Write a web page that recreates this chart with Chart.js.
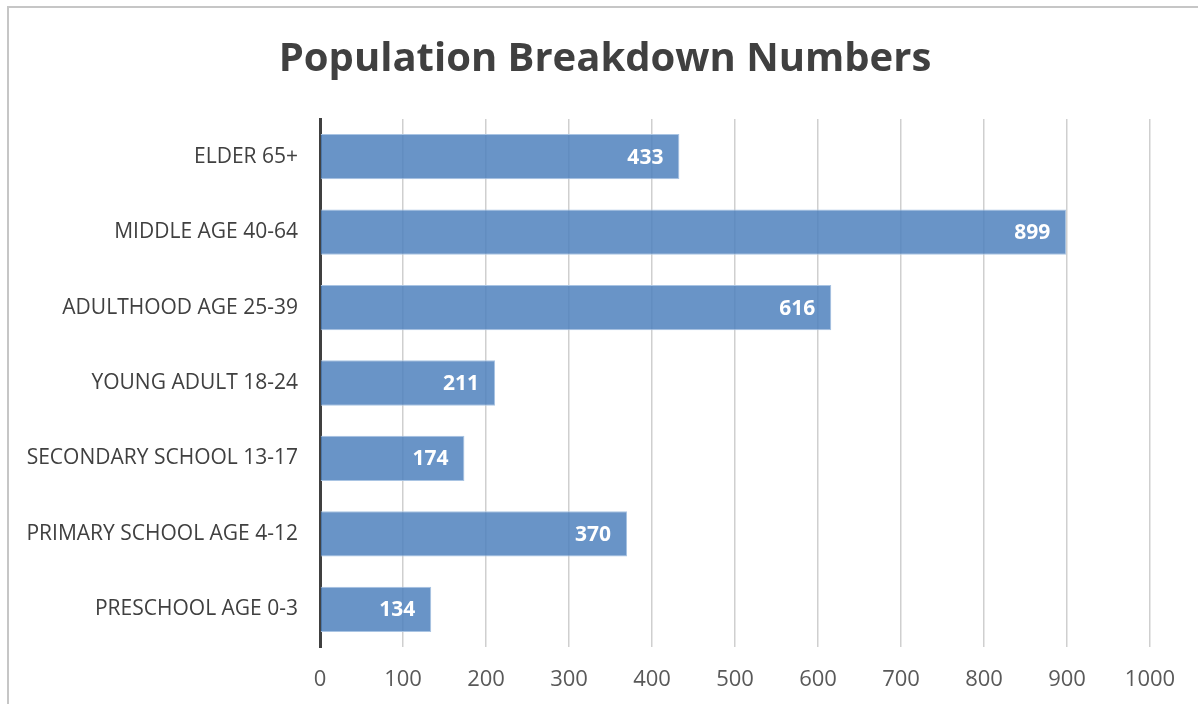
<!DOCTYPE html>
<html>
<head>
<meta charset="utf-8">
<script src="https://cdn.jsdelivr.net/npm/chart.js@4.4.1/dist/chart.umd.min.js"></script>
<style>
  html, body { margin: 0; padding: 0; background: #fff; overflow: hidden; }
  #frame {
    position: absolute; left: 7px; top: 6px; width: 1300px; height: 800px;
    border-left: 2px solid #c6c6c6; border-top: 2px solid #c6c6c6;
  }
  #wrap { position: absolute; left: 0; top: 0; width: 1198px; height: 704px; }
</style>
</head>
<body>
<div id="frame"></div>
<div id="wrap"><canvas id="population-chart" width="1198" height="704"></canvas></div>
<script>
const chartTitle = 'Population Breakdown Numbers'
const categories = [
  'ELDER 65+',
  'MIDDLE AGE 40-64',
  'ADULTHOOD AGE 25-39',
  'YOUNG ADULT 18-24',
  'SECONDARY SCHOOL 13-17',
  'PRIMARY SCHOOL AGE 4-12',
  'PRESCHOOL AGE 0-3'
]
const populationValues = [433, 899, 616, 211, 174, 370, 134]
const xTicks = [0, 100, 200, 300, 400, 500, 600, 700, 800, 900, 1000]

const FONT = '"Open Sans", "DejaVu Sans", sans-serif'

// white value labels drawn inside the end of each bar
const barValueLabels = {
  id: 'barValueLabels',
  afterDatasetsDraw (chart) {
    const { ctx } = chart
    const meta = chart.getDatasetMeta(0)
    ctx.save()
    ctx.font = `bold 21px ${FONT}`
    ctx.fillStyle = '#ffffff'
    ctx.textAlign = 'right'
    ctx.textBaseline = 'middle'
    meta.data.forEach((bar, i) => {
      ctx.fillText(String(populationValues[i]), bar.x - 16, bar.y + 1)
    })
    ctx.restore()
  }
}

// title centred a bit right of the canvas middle, like the original
const offsetTitle = {
  id: 'offsetTitle',
  afterDraw (chart) {
    const { ctx } = chart
    ctx.save()
    ctx.font = `bold 40px ${FONT}`
    ctx.fillStyle = '#404040'
    ctx.textAlign = 'center'
    ctx.textBaseline = 'middle'
    ctx.fillText(chartTitle, 605, 60)
    ctx.restore()
  }
}

const chart = new Chart(document.getElementById('population-chart'), {
  type: 'bar',
  data: {
    labels: categories,
    datasets: [{
      label: 'Population',
      data: populationValues,
      backgroundColor: 'rgba(79, 129, 189, 0.85)',
      borderColor: '#a9c4e3',
      borderWidth: 1,
      borderSkipped: 'start',
      barPercentage: 0.6,
      categoryPercentage: 1.0
    }]
  },
  options: {
    indexAxis: 'y',
    responsive: false,
    animation: false,
    layout: {
      padding: { left: 0, right: 48, top: 119, bottom: 0 }
    },
    scales: {
      x: {
        min: 0,
        max: 1000,
        afterBuildTicks (scale) {
          scale.ticks = xTicks.map(v => ({ value: v }))
        },
        afterFit (scale) {
          scale.height = 57
        },
        grid: {
          color: '#cfcfcf',
          lineWidth: 1.5,
          drawTicks: false
        },
        border: { display: false },
        ticks: {
          padding: 20,
          color: '#595959',
          font: { family: FONT, size: 22 },
          callback: v => String(v)
        }
      },
      y: {
        afterFit (scale) {
          scale.width = 320
        },
        grid: { display: false, drawTicks: false },
        border: { display: true, color: '#404040', width: 3 },
        ticks: {
          padding: 22,
          color: '#404040',
          font: { family: FONT, size: 21 }
        }
      }
    },
    plugins: {
      legend: { display: false },
      tooltip: { enabled: false },
      title: { display: false }
    }
  },
  plugins: [barValueLabels, offsetTitle]
})
</script>
</body>
</html>
